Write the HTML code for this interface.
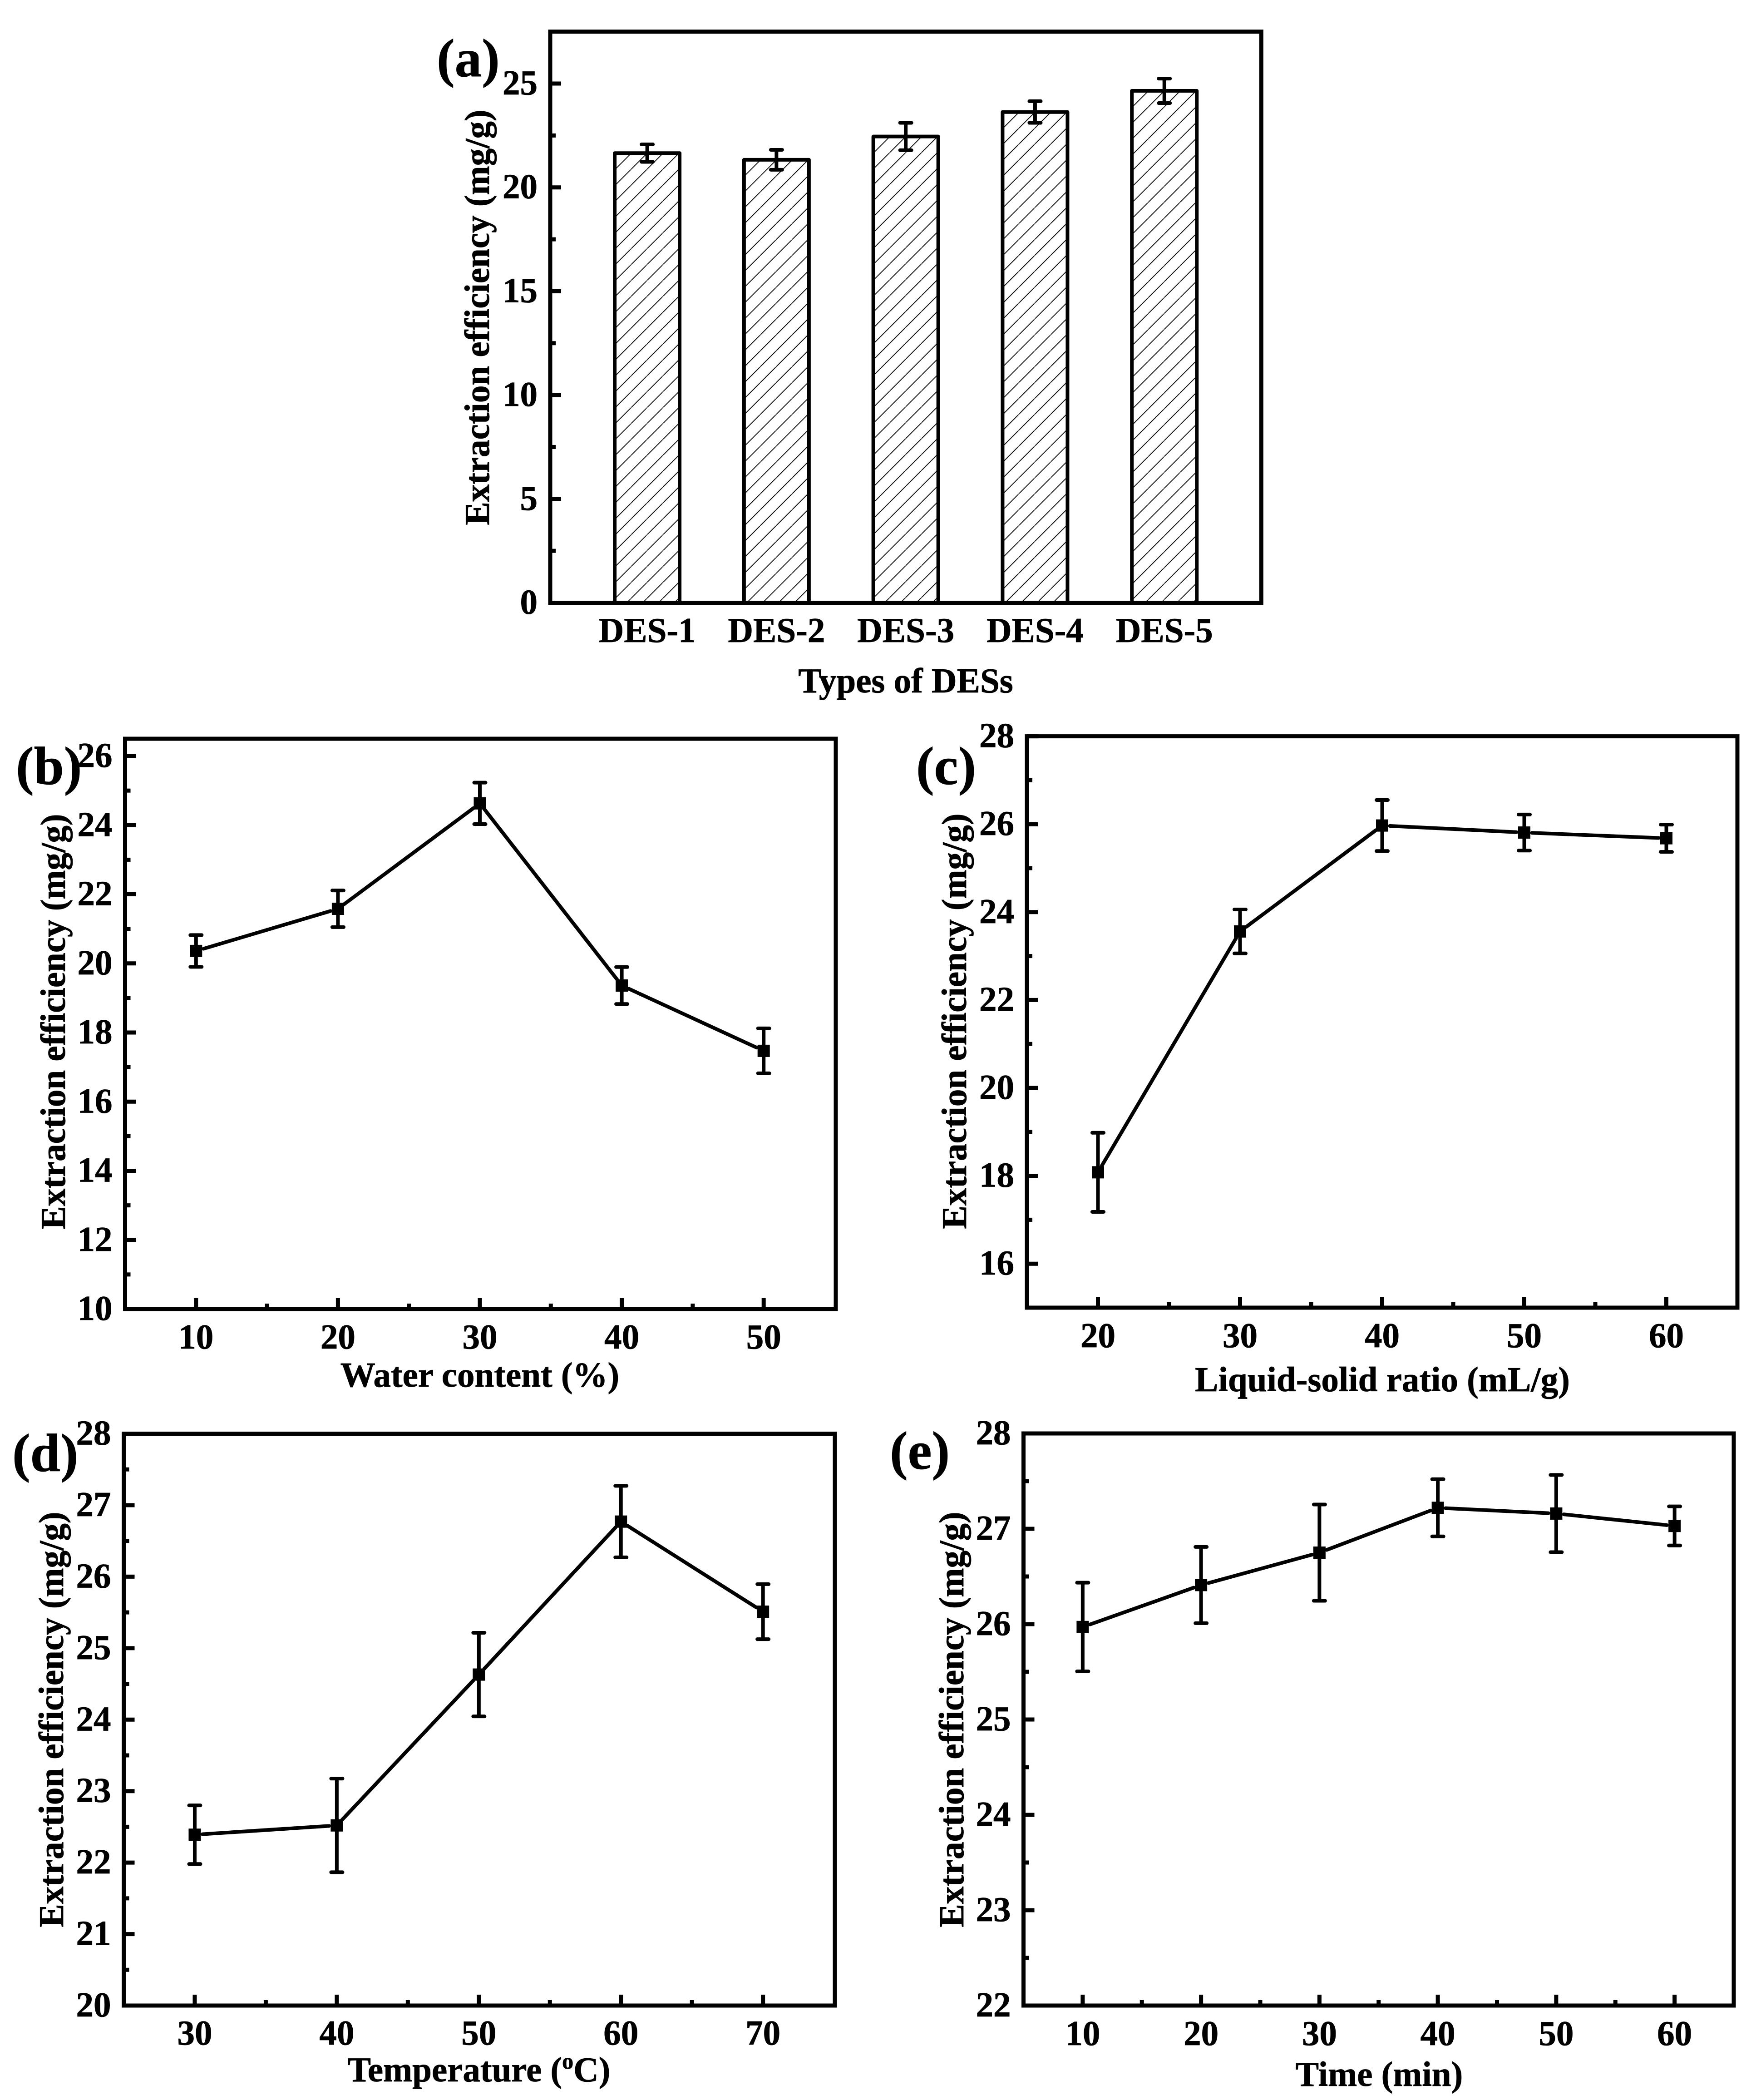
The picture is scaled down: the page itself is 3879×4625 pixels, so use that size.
<!DOCTYPE html>
<html lang="en">
<head>
<meta charset="utf-8">
<title>Extraction efficiency panels</title>
<style>
html,body{margin:0;padding:0;background:#fff;}
svg{display:block;}
text{font-family:"Liberation Serif","Times New Roman",serif;font-weight:bold;fill:#000;stroke:#000;stroke-width:0.8px;}
.tick{font-size:77px;}
.title{font-size:77px;}
.ytitle{font-size:77px;}
.plabel{font-size:119px;}
</style>
</head>
<body>
<svg id="figure" xmlns="http://www.w3.org/2000/svg" width="3879" height="4625" viewBox="0 0 3879 4625">
<rect x="0" y="0" width="3879" height="4625" fill="#fff"/>
<defs id="defs"></defs>
<g id="plots"></g>

<g>
<text class="plabel" x="962" y="168">(a)</text>
<text class="plabel" x="35" y="1727">(b)</text>
<text class="plabel" x="2018" y="1727">(c)</text>
<text class="plabel" x="27" y="3240">(d)</text>
<text class="plabel" x="1960" y="3235">(e)</text>
</g>

<g>
<text class="title" text-anchor="middle" x="1995" y="1525">Types of DESs</text>
<text class="title" text-anchor="middle" x="1057" y="3054">Water content (%)</text>
<text class="title" text-anchor="middle" x="3045" y="3064">Liquid-solid ratio (mL/g)</text>
<text class="title" text-anchor="middle" x="1055" y="4584">Temperature (<tspan font-size="50" dy="-28">o</tspan><tspan dy="28">C)</tspan></text>
<text class="title" text-anchor="middle" x="3038" y="4594">Time (min)</text>
<text class="ytitle" text-anchor="middle" transform="translate(1077 699) rotate(-90)">Extraction efficiency (mg/g)</text>
<text class="ytitle" text-anchor="middle" transform="translate(143 2250) rotate(-90)">Extraction efficiency (mg/g)</text>
<text class="ytitle" text-anchor="middle" transform="translate(2128 2249) rotate(-90)">Extraction efficiency (mg/g)</text>
<text class="ytitle" text-anchor="middle" transform="translate(139 3787) rotate(-90)">Extraction efficiency (mg/g)</text>
<text class="ytitle" text-anchor="middle" transform="translate(2122 3787) rotate(-90)">Extraction efficiency (mg/g)</text>
</g>
</svg>

<script>
// ---------- Panel (a) data ----------
const aCategories = ["DES-1", "DES-2", "DES-3", "DES-4", "DES-5"];
const aValues = [21.65, 21.33, 22.45, 23.63, 24.65];
const aErrors = [0.42, 0.48, 0.66, 0.52, 0.59];
const aYTicks = [0, 5, 10, 15, 20, 25];

// ---------- Panel (b) data ----------
const bX = [10, 20, 30, 40, 50];
const bValues = [20.36, 21.58, 24.63, 19.36, 17.47];
const bErrors = [0.46, 0.53, 0.60, 0.535, 0.65];
const bYTicks = [10, 12, 14, 16, 18, 20, 22, 24, 26];

// ---------- Panel (c) data ----------
const cX = [20, 30, 40, 50, 60];
const cValues = [18.08, 23.56, 25.97, 25.81, 25.68];
const cErrors = [0.90, 0.50, 0.58, 0.41, 0.31];
const cYTicks = [16, 18, 20, 22, 24, 26, 28];

// ---------- Panel (d) data ----------
const dX = [30, 40, 50, 60, 70];
const dValues = [22.39, 22.52, 24.63, 26.77, 25.51];
const dErrors = [0.41, 0.655, 0.585, 0.50, 0.385];
const dYTicks = [20, 21, 22, 23, 24, 25, 26, 27, 28];

// ---------- Panel (e) data ----------
const eX = [10, 20, 30, 40, 50, 60];
const eValues = [25.97, 26.41, 26.75, 27.22, 27.16, 27.03];
const eErrors = [0.465, 0.40, 0.505, 0.30, 0.405, 0.205];
const eYTicks = [22, 23, 24, 25, 26, 27, 28];

// ---------- Layout ----------
const layoutA = {left:1212, right:2778.3, top:69.7, bottom:1327.5, xMin:0.25, xMax:5.75, yMin:0, yMax:27.5};
const layoutB = {left:275.5, right:1841, top:1627, bottom:2883, xMin:5, xMax:55.08, yMin:10, yMax:26.5};
const layoutC = {left:2262, right:3827, top:1621.6, bottom:2880, xMin:15, xMax:65, yMin:15, yMax:28};
const layoutD = {left:272.5, right:1839, top:3157.5, bottom:4417, xMin:25, xMax:75.06, yMin:20, yMax:28};
const layoutE = {left:2254.5, right:3819, top:3157, bottom:4417, xMin:5, xMax:65, yMin:22, yMax:28};

const SVG_NS = "http://www.w3.org/2000/svg";
const plots = document.getElementById("plots");
const defs = document.getElementById("defs");

function make(tag, attrs, parent) {
  const node = document.createElementNS(SVG_NS, tag);
  for (const key in attrs) node.setAttribute(key, attrs[key]);
  parent.appendChild(node);
  return node;
}
function xScale(L, v) { return L.left + (v - L.xMin) / (L.xMax - L.xMin) * (L.right - L.left); }
function yScale(L, v) { return L.bottom - (v - L.yMin) / (L.yMax - L.yMin) * (L.bottom - L.top); }

function drawTick(g, x1, y1, x2, y2, name) {
  const t = make("line", {x1:x1, y1:y1, x2:x2, y2:y2, stroke:"#000", "stroke-width":9}, g);
  
  
}

function drawYAxis(g, L, ticks, id) {
  ticks.forEach(function (v, i) {
    const y = yScale(L, v);
    if (v > L.yMin) drawTick(g, L.left, y, L.left + 24, y, "y-tick-" + id + "-" + v);
    const label = make("text", {class:"tick", x:L.left - 28, y:y + 24, "text-anchor":"end"}, g);
    label.textContent = String(v);
    
    
    if (i < ticks.length - 1) {
      const my = yScale(L, (v + ticks[i + 1]) / 2);
      drawTick(g, L.left, my, L.left + 12, my, "y-minor-tick-" + id + "-" + i);
    }
  });
}

function drawXAxis(g, L, ticks, id, baseline) {
  ticks.forEach(function (v, i) {
    const x = xScale(L, v);
    drawTick(g, x, L.bottom, x, L.bottom - 24, "x-tick-" + id + "-" + v);
    const label = make("text", {class:"tick", x:x, y:baseline, "text-anchor":"middle"}, g);
    label.textContent = String(v);
    
    
    if (i < ticks.length - 1) {
      const mx = xScale(L, (v + ticks[i + 1]) / 2);
      drawTick(g, mx, L.bottom, mx, L.bottom - 12, "x-minor-tick-" + id + "-" + i);
    }
  });
}

function drawFrame(g, L, id) {
  const frame = make("rect", {x:L.left, y:L.top, width:L.right - L.left, height:L.bottom - L.top, fill:"none", stroke:"#000", "stroke-width":9}, g);
  
  
}

function drawErrorBar(g, x, yHi, yLo, name) {
  const e = make("g", {stroke:"#000", "stroke-width":8, "stroke-linecap":"round"}, g);
  
  
  make("line", {x1:x, y1:yHi, x2:x, y2:yLo, "stroke-linecap":"butt"}, e);
  make("line", {x1:x - 12.5, y1:yHi, x2:x + 12.5, y2:yHi}, e);
  make("line", {x1:x - 12.5, y1:yLo, x2:x + 12.5, y2:yLo}, e);
}

function drawBarPanel(L, categories, values, errors, yTicks, id, baseline) {
  const g = make("g", {}, plots);
  
  
  const halfWidth = 71.5;
  const hatchGap = 35;
  const phase = 1.6;
  values.forEach(function (v, i) {
    const cx = xScale(L, i + 1);
    const top = yScale(L, v);
    const left = cx - halfWidth;
    const pid = "hatch-" + id + "-" + i;
    const pat = make("pattern", {id:pid, patternUnits:"userSpaceOnUse", x:left, y:top, width:hatchGap, height:hatchGap}, defs);
    make("path", {d:"M" + phase + " 0L0 " + phase + "M" + hatchGap + " " + phase + "L" + phase + " " + hatchGap, stroke:"#000", "stroke-width":1.8, fill:"none"}, pat);
    const bar = make("rect", {x:left, y:top, width:halfWidth * 2, height:L.bottom - top, fill:"url(#" + pid + ")", stroke:"#000", "stroke-width":8, "stroke-linejoin":"round"}, g);
    
    
    drawErrorBar(g, cx, yScale(L, v + errors[i]), yScale(L, v - errors[i]), "error-bar-" + categories[i].toLowerCase());
    const label = make("text", {class:"tick", x:cx, y:baseline, "text-anchor":"middle"}, g);
    label.textContent = categories[i];
    
    
  });
  drawYAxis(g, L, yTicks, id);
  drawFrame(g, L, id);
}

function drawLinePanel(L, xs, values, errors, yTicks, id, baseline) {
  const g = make("g", {}, plots);
  
  
  drawXAxis(g, L, xs, id, baseline);
  drawYAxis(g, L, yTicks, id);
  const gap = 17;
  for (let i = 0; i < xs.length - 1; i++) {
    const x1 = xScale(L, xs[i]), y1 = yScale(L, values[i]);
    const x2 = xScale(L, xs[i + 1]), y2 = yScale(L, values[i + 1]);
    const len = Math.hypot(x2 - x1, y2 - y1);
    const ux = (x2 - x1) / len, uy = (y2 - y1) / len;
    const seg = make("line", {x1:x1 + ux * gap, y1:y1 + uy * gap, x2:x2 - ux * gap, y2:y2 - uy * gap, stroke:"#000", "stroke-width":8, "stroke-linecap":"round"}, g);
    
    
  }
  xs.forEach(function (x, i) {
    const cx = xScale(L, x), cy = yScale(L, values[i]);
    drawErrorBar(g, cx, yScale(L, values[i] + errors[i]), yScale(L, values[i] - errors[i]), "error-bar-" + id + "-" + x);
    const m = make("rect", {x:cx - 13.5, y:cy - 13.5, width:27, height:27, fill:"#000"}, g);
    
    
  });
  drawFrame(g, L, id);
}

drawBarPanel(layoutA, aCategories, aValues, aErrors, aYTicks, "a", 1414);
drawLinePanel(layoutB, bX, bValues, bErrors, bYTicks, "b", 2970);
drawLinePanel(layoutC, cX, cValues, cErrors, cYTicks, "c", 2967);
drawLinePanel(layoutD, dX, dValues, dErrors, dYTicks, "d", 4503);
drawLinePanel(layoutE, eX, eValues, eErrors, eYTicks, "e", 4504);
</script>
</body>
</html>
